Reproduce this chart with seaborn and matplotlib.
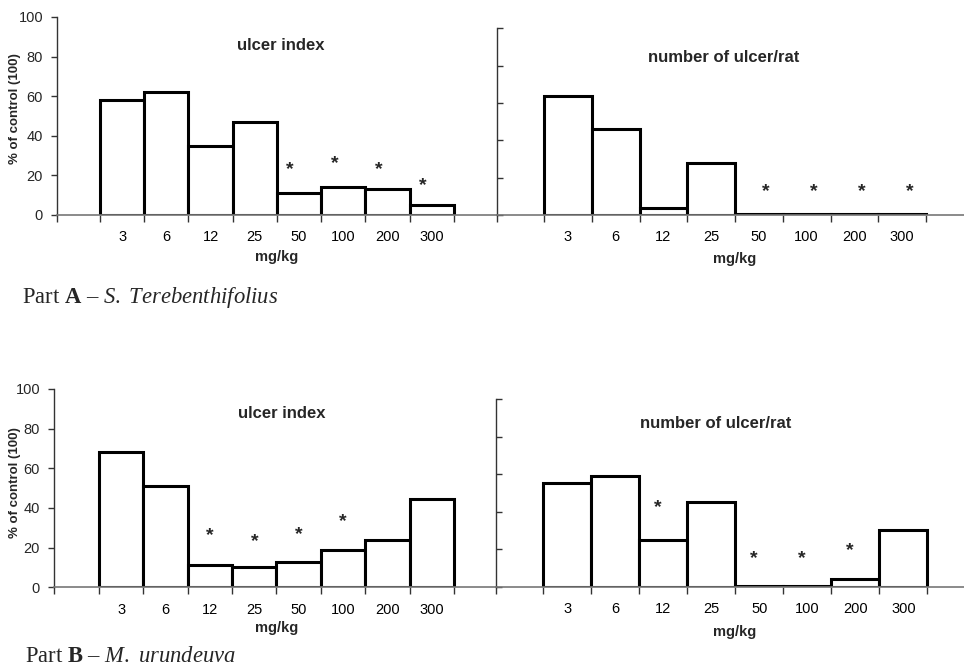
import numpy as np
import pandas as pd
import matplotlib
matplotlib.use('Agg')
import matplotlib.pyplot as plt
import seaborn as sns

doses = ['3', '6', '12', '25', '50', '100', '200', '300']

# Part A - S. Terebenthifolius (% of control)
a_ulcer_index = [58, 62, 35, 47, 11, 14, 13, 5]
a_ulcer_number = [64, 46, 4, 28, 0.8, 0.8, 0.8, 0.8]
# Part B - M. urundeuva (% of control)
b_ulcer_index = [68, 51, 11, 10, 13, 19, 24, 44.5]
b_ulcer_number = [55, 59, 25, 45, 0.5, 0.5, 4, 30]

# significance marks: dose -> height of the asterisk
a_index_stars = {'50': 23, '100': 26, '200': 23, '300': 15}
a_number_stars = {'50': 12.5, '100': 12.5, '200': 12.5, '300': 12.5}
b_index_stars = {'12': 26, '25': 23, '50': 26.5, '100': 33}
b_number_stars = {'12': 42, '50': 15, '100': 15, '200': 19}

sns.set_theme(style='white')
plt.rcParams['font.family'] = ['Liberation Sans', 'DejaVu Sans']
plt.rcParams['mathtext.fontset'] = 'custom'
plt.rcParams['mathtext.rm'] = 'Liberation Serif'
plt.rcParams['mathtext.it'] = 'Liberation Serif:italic'
plt.rcParams['mathtext.bf'] = 'Liberation Serif:bold'

W, H = 964, 670
fig = plt.figure(figsize=(W / 100, H / 100), dpi=100)


def fx(x):
    return x / W


def fy(y):
    return 1 - y / H


def draw_panel(box, values, stars, star_dx, show_labels):
    left, right, y0, y100, bar_l, bar_r = box
    ax = fig.add_axes([fx(left), fy(y0), (right - left) / W, (y0 - y100) / H])
    df = pd.DataFrame({'dose': doses, 'value': values})
    sns.barplot(data=df, x='dose', y='value', order=doses, ax=ax,
                color='white', edgecolor='black', linewidth=2.2, width=1,
                saturation=1, errorbar=None)
    slot = (bar_r - bar_l) / len(doses)
    ax.set_xlim(-0.5 - (bar_l - left) / slot, 7.5 + (right - bar_r) / slot)
    ax.set_ylim(0, 100)
    ax.set_facecolor('none')
    for s in ['top', 'right']:
        ax.spines[s].set_visible(False)
    ax.spines['left'].set_color('#333333')
    ax.spines['bottom'].set_color('#777777')
    ax.spines['left'].set_linewidth(1)
    ax.spines['bottom'].set_linewidth(1.2)

    ax.set_xticks(range(len(doses)))
    ax.set_xticklabels(doses, fontsize=10.5)
    ax.tick_params(axis='x', which='major', length=0, pad=11, colors='black')
    ax.set_xticks([ax.get_xlim()[0]] + list(np.arange(-0.5, 8, 1)), minor=True)
    ax.tick_params(axis='x', which='minor', length=5, width=1, color='#333333',
                   direction='out', bottom=True)

    ax.set_yticks(range(0, 101, 20))
    if show_labels:
        ax.tick_params(axis='y', length=4, width=1, direction='out', pad=6,
                       labelsize=10.5, left=True, color='#333333')
    else:
        ax.tick_params(axis='y', length=4, width=1, direction='in',
                       labelleft=False, left=True, color='#333333')
    ax.set_xlabel('')
    ax.set_ylabel('')

    for dose, h in stars.items():
        ax.text(doses.index(dose) + star_dx, h, '*', ha='center', va='center',
                fontsize=14, fontweight='bold')
    return ax


# pixel boxes: axis left, axis right, y of 0, y of 100, first bar edge, last bar edge
draw_panel((57, 497, 215, 17, 100, 454), a_ulcer_index, a_index_stars, -0.2, True)
draw_panel((497, 964, 215, 28.3, 544, 926), a_ulcer_number, a_number_stars, 0.15, False)
draw_panel((54, 497, 587.3, 389, 99, 454), b_ulcer_index, b_index_stars, 0.0, True)
draw_panel((496, 964, 586.7, 399, 543.3, 927.3), b_ulcer_number, b_number_stars, -0.12, False)

bold = dict(fontweight='bold', ha='center', va='center')
fig.text(fx(281), fy(45), 'ulcer index', fontsize=12, **bold)
fig.text(fx(724), fy(57), 'number of ulcer/rat', fontsize=12, **bold)
fig.text(fx(282), fy(413), 'ulcer index', fontsize=12, **bold)
fig.text(fx(716), fy(423), 'number of ulcer/rat', fontsize=12, **bold)

fig.text(fx(277), fy(257), 'mg/kg', fontsize=10.5, **bold)
fig.text(fx(735), fy(259), 'mg/kg', fontsize=10.5, **bold)
fig.text(fx(277), fy(628), 'mg/kg', fontsize=10.5, **bold)
fig.text(fx(735), fy(632), 'mg/kg', fontsize=10.5, **bold)

fig.text(fx(15), fy(109), '% of control (100)', rotation=90, fontsize=9.5, **bold)
fig.text(fx(15), fy(483), '% of control (100)', rotation=90, fontsize=9.5, **bold)

fig.text(fx(22), fy(298), r'Part $\mathbf{A}$ – $\mathit{S.\ Terebenthifolius}$',
         family='Liberation Serif', fontsize=16.3, ha='left', va='center')
fig.text(fx(25), fy(656), r'Part $\mathbf{B}$ – $\mathit{M.\ urundeuva}$',
         family='Liberation Serif', fontsize=16.3, ha='left', va='center')

fig.savefig('out.png', dpi=100, facecolor='white')
